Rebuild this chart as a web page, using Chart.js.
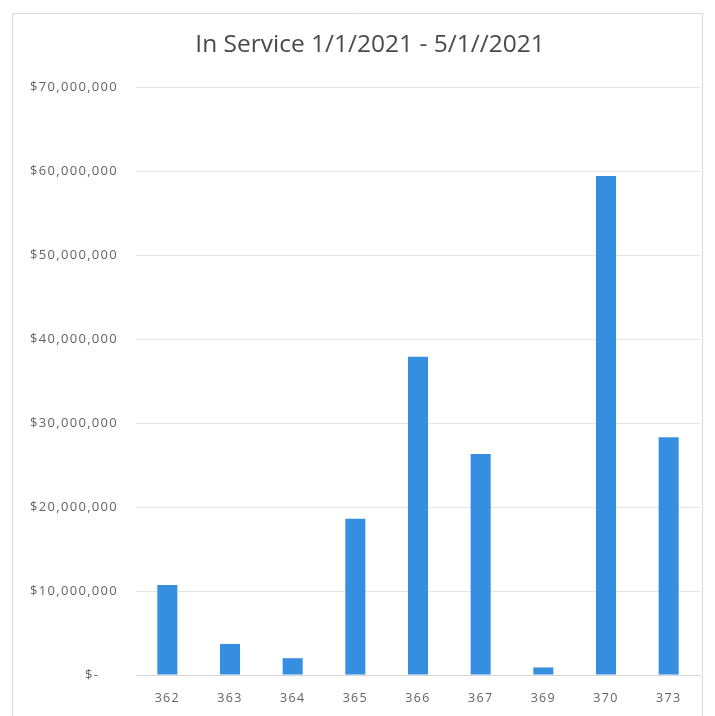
<!DOCTYPE html>
<html>
<head>
<meta charset="utf-8">
<title>In Service</title>
<script src="https://cdn.jsdelivr.net/npm/chart.js@4.4.1/dist/chart.umd.min.js"></script>
<style>
	html, body { margin: 0; padding: 0; background: #ffffff; }
	#wrap { width: 715px; height: 716px; }
</style>
</head>
<body>
<div id="wrap"><canvas id="myChart" width="715" height="716"></canvas></div>

<script>
	// in service totals per account, 1/1/2021 - 5/1/2021
	var chartTitle = "In Service 1/1/2021 - 5/1//2021";
	var accounts = ["362", "363", "364", "365", "366", "367", "369", "370", "373"];
	var inService = [10700000, 3700000, 2000000, 18600000, 37900000, 26300000, 900000, 59400000, 28300000];
	var yTicks = [0, 10000000, 20000000, 30000000, 40000000, 50000000, 60000000, 70000000];

	var textGrey = "#636363";

	function moneyLabel(value) {
		if (value == 0) {
			return "$-    ";
		}
		return "$" + value.toLocaleString("en-US");
	}

	// light frame round the whole chart + the heading
	var framePlugin = {
		id: "frame",
		beforeDraw: function(chart) {
			var ctx = chart.ctx;
			ctx.save();
			ctx.strokeStyle = "#dcdcdc";
			ctx.lineWidth = 1;
			ctx.beginPath();
			ctx.moveTo(12.5, 730);
			ctx.lineTo(12.5, 13.5);
			ctx.lineTo(702.5, 13.5);
			ctx.lineTo(702.5, 730);
			ctx.stroke();
			ctx.restore();
		},
		// tick labels are drawn after the bars (z: 1), a bit spaced out
		afterDatasetsDraw: function(chart) {
			chart.ctx.letterSpacing = "1.3px";
		},
		afterDraw: function(chart) {
			var ctx = chart.ctx;
			ctx.letterSpacing = "0px";
			ctx.save();
			ctx.fillStyle = "#4a4a4a";
			ctx.font = "24.5px 'Open Sans'";
			ctx.textAlign = "center";
			ctx.textBaseline = "middle";
			ctx.fillText(chartTitle, 370, 45);
			ctx.restore();
		}
	};

	var ctx = document.getElementById("myChart").getContext("2d");
	var myChart = new Chart(ctx, {
		type: "bar",
		data: {
			labels: accounts,
			datasets: [{
				data: inService,
				backgroundColor: "#358ee0",
				borderWidth: 0,
				categoryPercentage: 1,
				barPercentage: 0.32
			}]
		},
		plugins: [framePlugin],
		options: {
			responsive: false,
			animation: false,
			layout: { padding: { left: 0, right: 15, top: 87, bottom: 0 } },
			plugins: {
				legend: { display: false },
				tooltip: { enabled: false },
				title: { display: false }
			},
			scales: {
				x: {
					grid: { display: false },
					border: { display: true, color: "#d6d6d6" },
					ticks: {
						color: textGrey,
						font: { family: "'Open Sans'", size: 12.5 },
						padding: 8,
						z: 1
					},
					afterFit: function(scale) { scale.height = 41; }
				},
				y: {
					min: 0,
					max: 70000000,
					afterBuildTicks: function(scale) {
						scale.ticks = yTicks.map(function(v) { return { value: v }; });
					},
					grid: { color: "#e4e4e4", lineWidth: 1, drawTicks: false },
					border: { display: false },
					ticks: {
						color: textGrey,
						font: { family: "'Open Sans'", size: 13 },
						padding: 18,
						z: 1,
						callback: function(value) { return moneyLabel(value); }
					},
					afterFit: function(scale) { scale.width = 136; }
				}
			}
		}
	});
</script>
</body>
</html>
